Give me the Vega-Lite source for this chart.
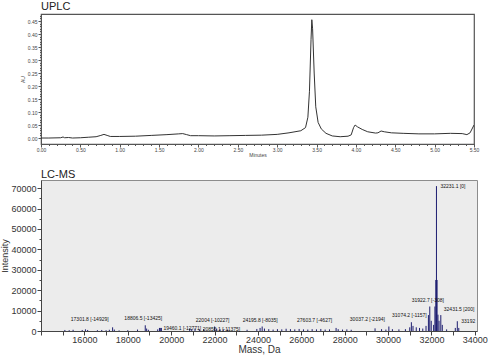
{
  "$schema": "https://vega.github.io/schema/vega-lite/v6.json",
  "padding": {"left": 0, "top": 0, "right": 8, "bottom": 0},
  "background": "white",
  "spacing": 10,
  "config": {"font": "Liberation Sans", "axis": {"grid": false, "labelOverlap": false, "labelFlush": false, "titleFontWeight": "normal"}},
  "datasets": {
    "uplc": [
      {"t": 0.00, "au": 0.000}, {"t": 0.10, "au": 0.000}, {"t": 0.25, "au": 0.001}, {"t": 0.28, "au": 0.004},
      {"t": 0.30, "au": 0.001}, {"t": 0.35, "au": 0.002}, {"t": 0.40, "au": 0.000}, {"t": 0.50, "au": 0.001},
      {"t": 0.60, "au": 0.003}, {"t": 0.70, "au": 0.005}, {"t": 0.76, "au": 0.010}, {"t": 0.80, "au": 0.014},
      {"t": 0.84, "au": 0.010}, {"t": 0.88, "au": 0.006}, {"t": 1.00, "au": 0.006}, {"t": 1.20, "au": 0.007},
      {"t": 1.40, "au": 0.010}, {"t": 1.60, "au": 0.013}, {"t": 1.75, "au": 0.016}, {"t": 1.80, "au": 0.017},
      {"t": 1.85, "au": 0.013}, {"t": 1.90, "au": 0.009}, {"t": 2.00, "au": 0.009}, {"t": 2.20, "au": 0.008},
      {"t": 2.40, "au": 0.009}, {"t": 2.60, "au": 0.010}, {"t": 2.80, "au": 0.011}, {"t": 3.00, "au": 0.014},
      {"t": 3.15, "au": 0.020}, {"t": 3.30, "au": 0.028}, {"t": 3.36, "au": 0.040}, {"t": 3.39, "au": 0.080},
      {"t": 3.41, "au": 0.180}, {"t": 3.43, "au": 0.380}, {"t": 3.44, "au": 0.455}, {"t": 3.45, "au": 0.420},
      {"t": 3.47, "au": 0.250}, {"t": 3.49, "au": 0.120}, {"t": 3.52, "au": 0.060}, {"t": 3.56, "au": 0.035},
      {"t": 3.62, "au": 0.018}, {"t": 3.70, "au": 0.008}, {"t": 3.80, "au": 0.005}, {"t": 3.90, "au": 0.007},
      {"t": 3.94, "au": 0.012}, {"t": 3.97, "au": 0.040}, {"t": 3.99, "au": 0.050}, {"t": 4.02, "au": 0.043},
      {"t": 4.08, "au": 0.033}, {"t": 4.15, "au": 0.024}, {"t": 4.25, "au": 0.019}, {"t": 4.28, "au": 0.020},
      {"t": 4.32, "au": 0.027}, {"t": 4.36, "au": 0.024}, {"t": 4.45, "au": 0.020}, {"t": 4.60, "au": 0.018},
      {"t": 4.80, "au": 0.016}, {"t": 5.00, "au": 0.016}, {"t": 5.20, "au": 0.018}, {"t": 5.35, "au": 0.017},
      {"t": 5.41, "au": 0.013}, {"t": 5.45, "au": 0.020}, {"t": 5.50, "au": 0.050}
    ],
    "ms": [
      {"mass": 15100, "intensity": 500}, {"mass": 15300, "intensity": 400}, {"mass": 15480, "intensity": 600},
      {"mass": 15900, "intensity": 500}, {"mass": 16050, "intensity": 800}, {"mass": 16150, "intensity": 500},
      {"mass": 16600, "intensity": 400}, {"mass": 16800, "intensity": 500}, {"mass": 17000, "intensity": 400},
      {"mass": 17150, "intensity": 600}, {"mass": 17301.8, "intensity": 1800}, {"mass": 17380, "intensity": 700},
      {"mass": 17600, "intensity": 300}, {"mass": 18000, "intensity": 400}, {"mass": 18450, "intensity": 700},
      {"mass": 18806.5, "intensity": 2800}, {"mass": 18870, "intensity": 1200}, {"mass": 18950, "intensity": 600},
      {"mass": 19380, "intensity": 800}, {"mass": 19460.1, "intensity": 1500}, {"mass": 19500, "intensity": 1500},
      {"mass": 19550, "intensity": 1500}, {"mass": 20856.1, "intensity": 1200}, {"mass": 20950, "intensity": 1000},
      {"mass": 21100, "intensity": 1200}, {"mass": 21300, "intensity": 800}, {"mass": 21500, "intensity": 1000},
      {"mass": 22004, "intensity": 2200}, {"mass": 22100, "intensity": 1200}, {"mass": 22250, "intensity": 900},
      {"mass": 22400, "intensity": 800}, {"mass": 22600, "intensity": 700}, {"mass": 23500, "intensity": 600},
      {"mass": 23950, "intensity": 1000}, {"mass": 24100, "intensity": 1500}, {"mass": 24195.8, "intensity": 2200},
      {"mass": 24300, "intensity": 1200}, {"mass": 24500, "intensity": 900}, {"mass": 24700, "intensity": 700},
      {"mass": 24900, "intensity": 900}, {"mass": 25100, "intensity": 800}, {"mass": 25300, "intensity": 1100},
      {"mass": 25500, "intensity": 900}, {"mass": 25700, "intensity": 800}, {"mass": 25900, "intensity": 1000},
      {"mass": 26100, "intensity": 800}, {"mass": 26300, "intensity": 700}, {"mass": 26500, "intensity": 900},
      {"mass": 26700, "intensity": 800}, {"mass": 26900, "intensity": 1000}, {"mass": 27100, "intensity": 700},
      {"mass": 27300, "intensity": 800}, {"mass": 27603.7, "intensity": 1500}, {"mass": 27700, "intensity": 900},
      {"mass": 27900, "intensity": 700}, {"mass": 28100, "intensity": 800}, {"mass": 28300, "intensity": 600},
      {"mass": 29400, "intensity": 1300}, {"mass": 29700, "intensity": 900}, {"mass": 29900, "intensity": 700},
      {"mass": 30037.2, "intensity": 2200}, {"mass": 30200, "intensity": 900}, {"mass": 30500, "intensity": 800},
      {"mass": 30800, "intensity": 900}, {"mass": 31000, "intensity": 1800}, {"mass": 31074.2, "intensity": 4300},
      {"mass": 31150, "intensity": 2500}, {"mass": 31300, "intensity": 1800}, {"mass": 31450, "intensity": 1500},
      {"mass": 31600, "intensity": 1200}, {"mass": 31750, "intensity": 2500}, {"mass": 31860, "intensity": 7800},
      {"mass": 31922.7, "intensity": 12000}, {"mass": 31990, "intensity": 5000}, {"mass": 32100, "intensity": 3000},
      {"mass": 32160, "intensity": 12000}, {"mass": 32200, "intensity": 25000}, {"mass": 32231.1, "intensity": 71000},
      {"mass": 32260, "intensity": 25000}, {"mass": 32300, "intensity": 8000}, {"mass": 32350, "intensity": 5000},
      {"mass": 32431.5, "intensity": 7800}, {"mass": 32500, "intensity": 3000}, {"mass": 32700, "intensity": 800},
      {"mass": 33100, "intensity": 1500}, {"mass": 33192, "intensity": 4800}, {"mass": 33260, "intensity": 1500}
    ],
    "labels": [
      {"mass": 17301.8, "intensity": 1800, "label": "17301.8 [-14929]"},
      {"mass": 18806.5, "intensity": 2800, "label": "18806.5 [-13425]"},
      {"mass": 19460.1, "intensity": 1500, "label": "19460.1 [-12771]"},
      {"mass": 20856.1, "intensity": 1200, "label": "20856.1 [-11375]"},
      {"mass": 22004, "intensity": 2200, "label": "22004 [-10227]"},
      {"mass": 24195.8, "intensity": 2200, "label": "24195.8 [-8035]"},
      {"mass": 27603.7, "intensity": 1500, "label": "27603.7 [-4627]"},
      {"mass": 30037.2, "intensity": 2200, "label": "30037.2 [-2194]"},
      {"mass": 31074.2, "intensity": 4300, "label": "31074.2 [-1157]"},
      {"mass": 31922.7, "intensity": 12000, "label": "31922.7 [-308]"},
      {"mass": 32231.1, "intensity": 71000, "label": "32231.1 [0]"},
      {"mass": 32431.5, "intensity": 7800, "label": "32431.5 [200]"},
      {"mass": 33192, "intensity": 4800, "label": "33192"}
    ]
  },
  "vconcat": [
    {
      "title": {"text": "UPLC", "anchor": "start", "frame": "group", "fontSize": 11, "fontWeight": "normal", "offset": 2, "color": "#222"},
      "width": 433,
      "height": 130,
      "view": {"stroke": "#555", "strokeWidth": 1.2},
      "data": {"name": "uplc"},
      "mark": {"type": "line", "color": "#333", "strokeWidth": 1, "clip": true},
      "encoding": {
        "x": {
          "field": "t", "type": "quantitative",
          "scale": {"domain": [0, 5.5], "nice": false, "zero": false},
          "axis": {
            "values": [0,0.1,0.2,0.3,0.4,0.5,0.6,0.7,0.8,0.9,1,1.1,1.2,1.3,1.4,1.5,1.6,1.7,1.8,1.9,2,2.1,2.2,2.3,2.4,2.5,2.6,2.7,2.8,2.9,3,3.1,3.2,3.3,3.4,3.5,3.6,3.7,3.8,3.9,4,4.1,4.2,4.3,4.4,4.5,4.6,4.7,4.8,4.9,5,5.1,5.2,5.3,5.4,5.5],
            "labelExpr": "abs(datum.value*2 - round(datum.value*2)) < 0.001 ? format(datum.value, '.2f') : ''",
            "tickSize": {"condition": {"test": "abs(datum.value*2 - round(datum.value*2)) < 0.001", "value": 3}, "value": 1.5},
            "labelOverlap": false,
            "title": "Minutes", "titleFontSize": 5, "titleColor": "#444", "titlePadding": 0,
            "labelFontSize": 5, "labelColor": "#444", "labelPadding": 0,
            "domainColor": "#555", "tickColor": "#555"
          }
        },
        "y": {
          "field": "au", "type": "quantitative",
          "scale": {"domain": [-0.023, 0.477], "nice": false, "zero": false},
          "axis": {
            "values": [0,0.01,0.02,0.03,0.04,0.05,0.06,0.07,0.08,0.09,0.1,0.11,0.12,0.13,0.14,0.15,0.16,0.17,0.18,0.19,0.2,0.21,0.22,0.23,0.24,0.25,0.26,0.27,0.28,0.29,0.3,0.31,0.32,0.33,0.34,0.35,0.36,0.37,0.38,0.39,0.4,0.41,0.42,0.43,0.44,0.45,0.46,0.47],
            "labelExpr": "abs(datum.value*20 - round(datum.value*20)) < 0.001 ? format(datum.value, '.2f') : ''",
            "tickSize": {"condition": {"test": "abs(datum.value*20 - round(datum.value*20)) < 0.001", "value": 3}, "value": 1.5},
            "labelOverlap": false,
            "title": "AU", "titleFontSize": 5, "titleColor": "#444", "titlePadding": 2,
            "labelFontSize": 5, "labelColor": "#444", "labelPadding": 1,
            "domainColor": "#555", "tickColor": "#555"
          }
        }
      }
    },
    {
      "title": {"text": "LC-MS", "anchor": "start", "frame": "group", "fontSize": 11, "fontWeight": "normal", "offset": 0, "color": "#222"},
      "width": 436,
      "height": 151,
      "view": {"fill": "#ececec", "stroke": "#8c8c8c"},
      "encoding": {
        "x": {
          "field": "mass", "type": "quantitative",
          "scale": {"domain": [14000, 34100], "nice": false, "zero": false},
          "axis": {
            "values": [14000,15000,16000,17000,18000,19000,20000,21000,22000,23000,24000,25000,26000,27000,28000,29000,30000,31000,32000,33000,34000],
            "labelExpr": "datum.value % 2000 == 0 && datum.value > 14000 ? format(datum.value, 'd') : ''",
            "labelOverlap": false,
            "tickSize": 4,
            "title": "Mass, Da", "titleFontSize": 10, "titleColor": "#333", "titlePadding": 0,
            "labelFontSize": 9, "labelColor": "#333", "labelPadding": 0,
            "domainColor": "#444", "tickColor": "#444"
          }
        },
        "y": {
          "field": "intensity", "type": "quantitative",
          "scale": {"domain": [0, 74000], "nice": false},
          "axis": {
            "values": [0,5000,10000,15000,20000,25000,30000,35000,40000,45000,50000,55000,60000,65000,70000],
            "labelExpr": "datum.value % 10000 == 0 ? format(datum.value, 'd') : ''",
            "labelOverlap": false,
            "tickSize": {"condition": {"test": "datum.value % 10000 == 0", "value": 4}, "value": 2},
            "title": "Intensity", "titleFontSize": 9, "titleColor": "#333", "titlePadding": 1,
            "labelFontSize": 9, "labelColor": "#333", "labelPadding": 1,
            "domainColor": "#444", "tickColor": "#444"
          }
        }
      },
      "layer": [
        {
          "data": {"name": "ms"},
          "mark": {"type": "rule", "color": "#1d1d70", "strokeWidth": 1},
          "encoding": {"y2": {"datum": 0}}
        },
        {
          "data": {"name": "labels"},
          "transform": [{"filter": {"field": "mass", "oneOf": [17301.8, 27603.7, 30037.2]}}],
          "mark": {"type": "text", "align": "right", "baseline": "middle", "dx": -4, "dy": -8, "fontSize": 5, "color": "#111"},
          "encoding": {"text": {"field": "label"}}
        },
        {
          "data": {"name": "labels"},
          "transform": [{"filter": {"field": "mass", "oneOf": [18806.5, 22004, 24195.8, 31074.2, 31922.7]}}],
          "mark": {"type": "text", "align": "center", "baseline": "middle", "dx": -2, "dy": -7, "fontSize": 5, "color": "#111"},
          "encoding": {"text": {"field": "label"}}
        },
        {
          "data": {"name": "labels"},
          "transform": [{"filter": {"field": "mass", "oneOf": [19460.1, 32231.1, 33192]}}],
          "mark": {"type": "text", "align": "left", "baseline": "middle", "dx": 4, "dy": 0, "fontSize": 5, "color": "#111"},
          "encoding": {"text": {"field": "label"}}
        },
        {
          "data": {"name": "labels"},
          "transform": [{"filter": {"field": "mass", "oneOf": [20856.1]}}],
          "mark": {"type": "text", "align": "left", "baseline": "middle", "dx": 13, "dy": 0, "fontSize": 5, "color": "#111"},
          "encoding": {"text": {"field": "label"}}
        },
        {
          "data": {"name": "labels"},
          "transform": [{"filter": {"field": "mass", "oneOf": [32431.5]}}],
          "mark": {"type": "text", "align": "left", "baseline": "middle", "dx": 3, "dy": -6, "fontSize": 5, "color": "#111"},
          "encoding": {"text": {"field": "label"}}
        }
      ]
    }
  ]
}
